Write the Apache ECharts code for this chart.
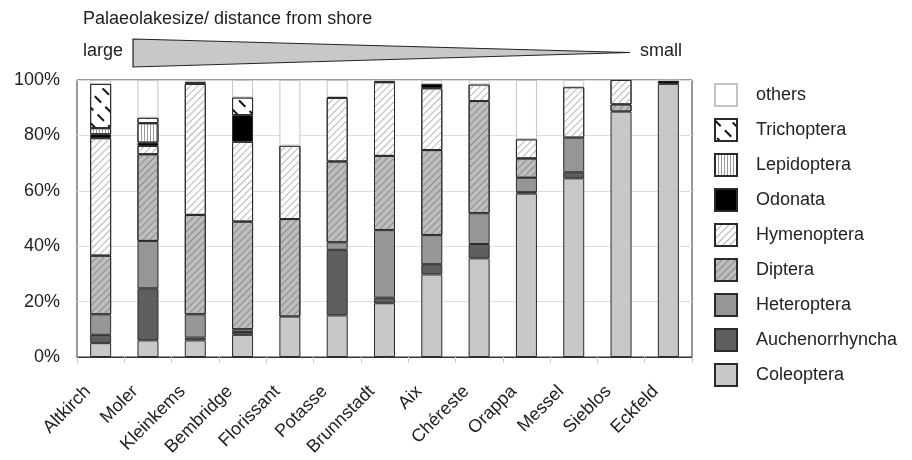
<!DOCTYPE html>
<html>
<head>
<meta charset="utf-8">
<script src="https://cdn.jsdelivr.net/npm/echarts@6/dist/echarts.min.js"></script>
<style>html,body{margin:0;padding:0;background:#fff;}#c{width:912px;height:460px;}</style>
</head>
<body>
<div id="c"></div>
<script>
var categories = ['Altkirch','Moler','Kleinkems','Bembridge','Florissant','Potasse','Brunnstadt','Aix','Chéreste','Orappa','Messel','Sieblos','Eckfeld'];
var yTicks = [0, 20, 40, 60, 80, 100];
var coleoptera      = [5.0, 6.0, 6.0, 8.0, 14.6, 15.0, 19.4, 29.8, 35.6, 59.0, 64.5, 88.6, 98.6];
var auchenorrhyncha = [3.0, 18.8, 1.0, 1.0, 0, 23.7, 2.0, 3.7, 5.2, 0.5, 2.2, 0, 0];
var heteroptera     = [7.4, 17.1, 8.4, 1.0, 0, 2.7, 24.4, 10.5, 11.1, 5.2, 12.5, 0, 0];
var diptera         = [21.2, 31.3, 35.9, 38.9, 35.2, 29.2, 26.8, 30.7, 40.5, 7.0, 0, 2.6, 0];
var hymenoptera     = [42.4, 3.0, 47.3, 28.8, 26.5, 22.9, 26.6, 22.3, 6.0, 6.9, 18.2, 8.8, 0];
var odonata         = [1.4, 1.2, 0.7, 9.6, 0, 0.4, 0.5, 1.6, 0, 0, 0, 0, 1.2];
var lepidoptera     = [2.2, 7.0, 0, 0, 0, 0, 0, 0, 0, 0, 0, 0, 0];
var trichoptera     = [16.0, 2.0, 0, 6.4, 0, 0, 0, 0, 0, 0, 0, 0, 0];
var others          = [1.4, 13.6, 0.7, 6.3, 23.7, 6.1, 0.3, 1.4, 1.6, 21.4, 2.6, 0, 0.2];

var FONT = 'Liberation Sans, Arial, sans-serif';
var dark = '#2a2a2a';

function clean(arr){ return arr.map(function(v){ return v === 0 ? null : v; }); }

var styles = {
  Coleoptera: {color:'#c8c8c8', borderColor:dark},
  Auchenorrhyncha: {color:'#5e5e5e', borderColor:dark},
  Heteroptera: {color:'#969696', borderColor:dark},
  Diptera: {color:'#bdbdbd', borderColor:dark,
    decal:{symbol:'rect', symbolSize:1, color:'#8a8a8a', dashArrayX:[1,0], dashArrayY:[1,4], rotation:-Math.PI/4}},
  Hymenoptera: {color:'#ffffff', borderColor:dark,
    decal:{symbol:'rect', symbolSize:1, color:'#b4b4b4', dashArrayX:[1,0], dashArrayY:[1,4], rotation:-Math.PI/4}},
  Odonata: {color:'#000000', borderColor:dark},
  Lepidoptera: {color:'#ffffff', borderColor:dark,
    decal:{symbol:'rect', symbolSize:1, color:'#9a9a9a', dashArrayX:[1,2], dashArrayY:[1,0], rotation:0}},
  Trichoptera: {color:'#ffffff', borderColor:dark,
    decal:{symbol:'rect', symbolSize:1, color:'#111111', dashArrayX:[9,6], dashArrayY:[2,9], rotation:Math.PI/4}},
  others: {color:'#ffffff', borderColor:'#c4c4c4'}
};

var seriesDefs = [
  ['Coleoptera', coleoptera],
  ['Auchenorrhyncha', auchenorrhyncha],
  ['Heteroptera', heteroptera],
  ['Diptera', diptera],
  ['Hymenoptera', hymenoptera],
  ['Odonata', odonata],
  ['Lepidoptera', lepidoptera],
  ['Trichoptera', trichoptera],
  ['others', others]
];

var series = seriesDefs.map(function(d){
  var st = styles[d[0]];
  var is = {color: st.color, borderColor: st.borderColor, borderWidth: 1};
  if (st.decal) is.decal = st.decal;
  return {
    name: d[0], type: 'bar', stack: 'all', barWidth: 21,
    data: clean(d[1]), itemStyle: is, emphasis: {disabled: true},
    animation: false
  };
});

var chart = echarts.init(document.getElementById('c'), null, {renderer: 'canvas'});
chart.setOption({
  animation: false,
  textStyle: {fontFamily: FONT},
  grid: {left: 77, right: 220, top: 80, bottom: 103, show: true, borderColor: '#333', borderWidth: 1, containLabel: false},
  legend: {
    orient: 'vertical', left: 709, top: 78,
    icon: 'rect',
    itemWidth: 22, itemHeight: 22, itemGap: 11,
    data: ['others','Trichoptera','Lepidoptera','Odonata','Hymenoptera','Diptera','Heteroptera','Auchenorrhyncha','Coleoptera'],
    textStyle: {fontSize: 18, color: '#222', fontFamily: FONT, padding: [0,0,0,14]},
    selectedMode: false
  },
  xAxis: {
    type: 'category', data: categories,
    axisLine: {show: true, lineStyle: {color: '#333', width: 1}},
    axisTick: {show: true, alignWithLabel: false, length: 6, lineStyle: {color: '#ccc'}},
    axisLabel: {rotate: 45, fontSize: 18, color: '#222', margin: 19, padding: [0, 18, 0, 0], interval: 0, fontFamily: FONT}
  },
  yAxis: {
    type: 'value', min: yTicks[0], max: yTicks[yTicks.length-1], interval: 20,
    axisLine: {show: false}, axisTick: {show: false},
    splitLine: {show: true, lineStyle: {color: '#dedede', width: 1}},
    axisLabel: {formatter: '{value}%', fontSize: 18, color: '#222', margin: 17, fontFamily: FONT}
  },
  graphic: [
    {type: 'text', left: 83, top: 10, style: {text: 'Palaeolakesize/ distance from shore', fontSize: 18, fill: '#222', fontFamily: FONT}},
    {type: 'text', left: 83, top: 42, style: {text: 'large', fontSize: 18, fill: '#222', fontFamily: FONT}},
    {type: 'text', left: 640, top: 42, style: {text: 'small', fontSize: 18, fill: '#222', fontFamily: FONT}},
    {type: 'polygon', shape: {points: [[133, 39], [630, 52.5], [133, 67]]}, style: {fill: '#c8c8c8', stroke: '#222', lineWidth: 1.2}}
  ],
  series: series
});
</script>
</body>
</html>
